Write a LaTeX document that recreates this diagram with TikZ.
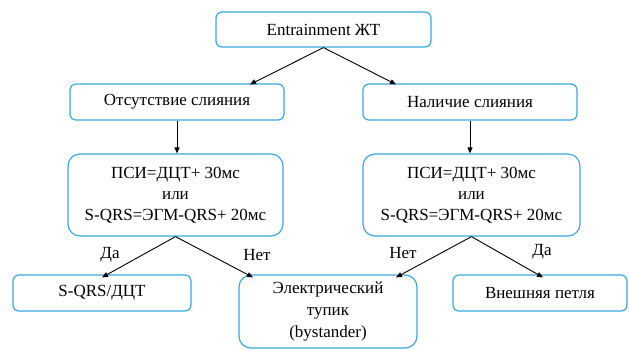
\documentclass[tikz,border=0pt]{standalone}
\usepackage{fontspec}
\setmainfont{Liberation Serif}
\usetikzlibrary{arrows.meta,calc}
\definecolor{boxblue}{RGB}{60,166,222}
\tikzset{
  box/.style={draw=boxblue, line width=1.2pt, rounded corners=6pt, align=center,
    inner sep=0pt, font=\fontsize{17}{21}\selectfont},
  bigbox/.style={box, rounded corners=12pt},
  conn/.style={line width=0.9pt, -{Triangle[length=6pt,width=5pt]}},
  lbl/.style={font=\fontsize{17}{20}\selectfont, inner sep=0pt}
}
\begin{document}
\begin{tikzpicture}[x=1pt,y=-1pt]
\useasboundingbox (0,0) rectangle (629,349);
\node[box, minimum width=215pt, minimum height=35pt] (top) at (323.5,29.5) {Entrainment ЖТ};
\node[box, minimum width=214pt, minimum height=36pt] (abs) at (177,102) {Отсутствие слияния};
\node[box, minimum width=214pt, minimum height=36pt] (pres) at (470,102) {Наличие слияния};
\node[bigbox, minimum width=215pt, minimum height=82pt] (psiL) at (175.5,195) {ПСИ=ДЦТ+ 30мс\\или\\S-QRS=ЭГМ-QRS+ 20мс};
\node[bigbox, minimum width=217pt, minimum height=82pt] (psiR) at (471.5,195) {ПСИ=ДЦТ+ 30мс\\или\\S-QRS=ЭГМ-QRS+ 20мс};
\node[box, minimum width=178pt, minimum height=36pt] (sqrs) at (102,293) {S-QRS/ДЦТ};
\node[bigbox, minimum width=178pt, minimum height=73pt, font=\fontsize{17}{22}\selectfont] (elec) at (328,311.5) {Электрический\\тупик\\(bystander)};
\node[box, minimum width=174pt, minimum height=36pt] (ext) at (540,293) {Внешняя петля};

\draw[conn] (top.south) -- ([xshift=73pt,yshift=-1pt]abs.north);
\draw[conn] (top.south) -- ([xshift=-74pt,yshift=-1pt]pres.north);
\draw[conn] (abs.south) -- (abs.south |- psiL.north);
\draw[conn] (pres.south) -- (pres.south |- psiR.north);
\draw[conn] (psiL.south) -- ([yshift=-3pt]sqrs.north);
\draw[conn] (psiL.south) -- ([xshift=-75pt,yshift=-3pt]elec.north);
\draw[conn] (psiR.south) -- ([xshift=68pt,yshift=-3pt]elec.north);
\draw[conn] (psiR.south) -- ([xshift=3pt,yshift=-3pt]ext.north);
\node[lbl] (da1) at (110,255) {Да};
\node[lbl] (net1) at (257,255) {Нет};
\node[lbl] (net2) at (403,253) {Нет};
\node[lbl] (da2) at (542,252) {Да};
\end{tikzpicture}
\end{document}
